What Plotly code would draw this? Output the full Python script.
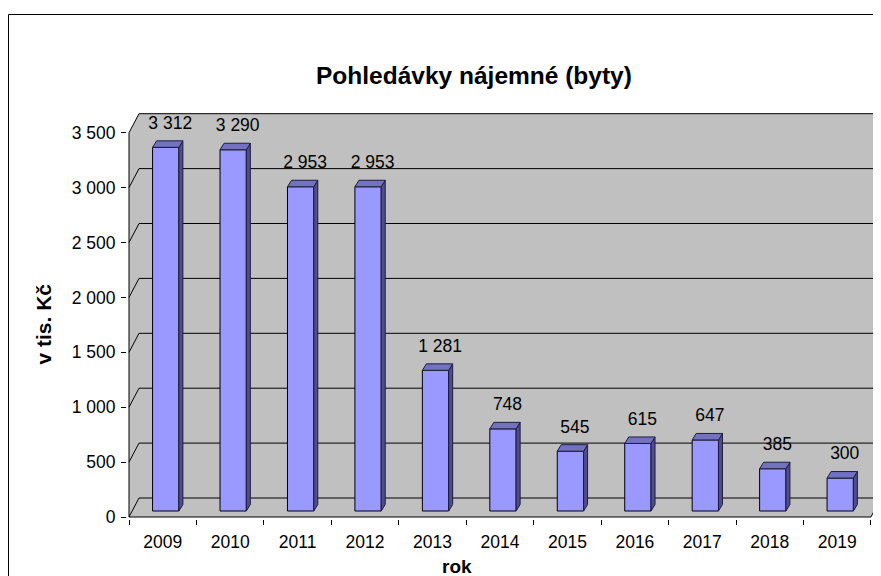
import plotly.graph_objects as go

# ---- data ----
years = ["2009", "2010", "2011", "2012", "2013", "2014", "2015", "2016", "2017", "2018", "2019"]
values = [3312, 3290, 2953, 2953, 1281, 748, 545, 615, 647, 385, 300]
y_ticks = [0, 500, 1000, 1500, 2000, 2500, 3000, 3500]
title_text = "Pohledávky nájemné (byty)"
y_title = "v tis. Kč"
x_title = "rok"

# ---- geometry (pixel scales of the pseudo-3D look) ----
OFF = 8                                   # page body margin
W, H = 881 - OFF, 576 - OFF
L, R, T, B = 127 - OFF, 881 - OFF, 103 - OFF, 519 - OFF   # plot area in figure pixels
kx = 67.45                               # px per category
ky = 0.1098                              # px per value unit
xmin = -0.5 - 2 / kx
xmax = xmin + (R - L) / kx
ymin = -2 / ky
ymax = ymin + (B - T) / ky

n = len(values)
x0c, x1c = -0.5, n - 0.5
dxw, dyw = 10 / kx, 19 / ky               # wall depth
bdx, bdy = 3 / kx, 6 / ky                 # bar front plane offset
tdx, tdy = 4 / kx, 6.5 / ky               # bar depth
bw = 0.39

FONT = "Liberation Sans, Arial, sans-serif"
GRAY = "#C0C0C0"
FRONT = "#9999FF"
TOP = "#7272C0"
SIDE = "#4D4D8F"
FS = 17.5

def px_x(p):  # page pixel -> paper
    return (p - OFF - L) / (R - L)

def px_y(p):
    return (B - (p - OFF)) / (B - T)

def poly(pts):
    return "M " + " L ".join(f"{a},{b}" for a, b in pts) + " Z"

shapes = []
ytop = y_ticks[-1]
# walls
shapes.append(dict(type="path", xref="x", yref="y", layer="below",
                   path=poly([(x0c + dxw, dyw), (x1c + dxw, dyw), (x1c + dxw, ytop + dyw), (x0c + dxw, ytop + dyw)]),
                   fillcolor=GRAY, line=dict(width=0)))
shapes.append(dict(type="path", xref="x", yref="y", layer="below",
                   path=poly([(x0c, 0), (x0c, ytop), (x0c + dxw, ytop + dyw), (x0c + dxw, dyw)]),
                   fillcolor=GRAY, line=dict(width=0)))
shapes.append(dict(type="path", xref="x", yref="y", layer="below",
                   path=poly([(x0c, 0), (x1c, 0), (x1c + dxw, dyw), (x0c + dxw, dyw)]),
                   fillcolor=GRAY, line=dict(width=0)))
# gridlines
for t in y_ticks:
    shapes.append(dict(type="path", xref="x", yref="y", layer="below",
                       path=f"M {x0c},{t} L {x0c + dxw},{t + dyw} L {x1c + dxw},{t + dyw}",
                       line=dict(color="black", width=1)))
# axis lines and floor edge
shapes.append(dict(type="line", xref="x", yref="y", x0=x0c, y0=0, x1=x0c, y1=ytop,
                   line=dict(color="black", width=1)))
shapes.append(dict(type="path", xref="x", yref="y",
                   path=f"M {x0c},0 L {x1c},0 L {x1c + dxw},{dyw}",
                   line=dict(color="black", width=1)))
# outer border
shapes.append(dict(type="rect", xref="paper", yref="paper",
                   x0=px_x(8.5), y0=px_y(620), x1=px_x(960), y1=px_y(14.5),
                   line=dict(color="black", width=1), fillcolor="rgba(0,0,0,0)"))

fig = go.Figure()

xs = [i + bdx for i in range(n)]
fig.add_trace(go.Bar(x=xs, y=values, base=[bdy] * n, width=bw,
                     marker=dict(color=FRONT, line=dict(color="black", width=1)),
                     hoverinfo="skip"))

top_x, top_y, side_x, side_y = [], [], [], []
for xc, v in zip(xs, values):
    xl, xr = xc - bw / 2, xc + bw / 2
    yt = bdy + v
    top_x += [xl, xr, xr + tdx, xl + tdx, xl, None]
    top_y += [yt, yt, yt + tdy, yt + tdy, yt, None]
    side_x += [xr, xr, xr + tdx, xr + tdx, xr, None]
    side_y += [bdy, yt, yt + tdy, bdy + tdy, bdy, None]

fig.add_trace(go.Scatter(x=side_x, y=side_y, mode="lines", fill="toself",
                         fillcolor=SIDE, line=dict(color="#1E1E40", width=1),
                         hoverinfo="skip"))
fig.add_trace(go.Scatter(x=top_x, y=top_y, mode="lines", fill="toself",
                         fillcolor=TOP, line=dict(color="#1E1E40", width=1),
                         hoverinfo="skip"))

labels = [f"{v:,}".replace(",", " ") for v in values]
fig.add_trace(go.Scatter(x=[i + 7.5 / kx for i in range(n)],
                         y=[bdy + v + 23 / ky for v in values],
                         mode="text", text=labels, textposition="middle center",
                         textfont=dict(family=FONT, size=FS, color="black"),
                         hoverinfo="skip", cliponaxis=False))

fig.update_layout(
    width=W, height=H, autosize=False,
    margin=dict(l=L, r=W - R, t=T, b=H - B, pad=0),
    paper_bgcolor="white", plot_bgcolor="white",
    showlegend=False,
    separators=", ",
    shapes=shapes,
    font=dict(family=FONT, size=FS, color="black"),
    annotations=[
        dict(text=f"<b>{title_text}</b>", xref="paper", yref="paper",
             x=px_x(474), y=px_y(76), xanchor="center", yanchor="middle",
             showarrow=False, font=dict(family=FONT, size=24.5, color="black")),
        dict(text=f"<b>{y_title}</b>", xref="paper", yref="paper",
             x=px_x(42.5), y=px_y(324), xanchor="center", yanchor="middle",
             textangle=-90, showarrow=False, font=dict(family=FONT, size=21, color="black")),
        dict(text=f"<b>{x_title}</b>", xref="paper", yref="paper",
             x=px_x(457), y=px_y(566), xanchor="center", yanchor="middle",
             showarrow=False, font=dict(family=FONT, size=19, color="black")),
    ],
    xaxis=dict(range=[xmin, xmax], tickmode="array", tickvals=list(range(n)), ticktext=years,
               ticks="", showgrid=False, zeroline=False, showline=False, automargin=False,
               tickfont=dict(family=FONT, size=FS, color="black"), ticklabelstandoff=10,
               minor=dict(tickmode="array", tickvals=[i - 0.5 for i in range(n + 1)],
                          ticks="outside", ticklen=5, tickcolor="black", tickwidth=1, showgrid=False),
               fixedrange=True),
    yaxis=dict(range=[ymin, ymax], tickmode="array", tickvals=y_ticks, tickformat=",d",
               ticks="outside", ticklen=5, tickcolor="black", tickwidth=1,
               showgrid=False, zeroline=False, showline=False, automargin=False,
               tickfont=dict(family=FONT, size=FS, color="black"), ticklabelstandoff=2,
               fixedrange=True),
)

fig.write_html("out.html")
